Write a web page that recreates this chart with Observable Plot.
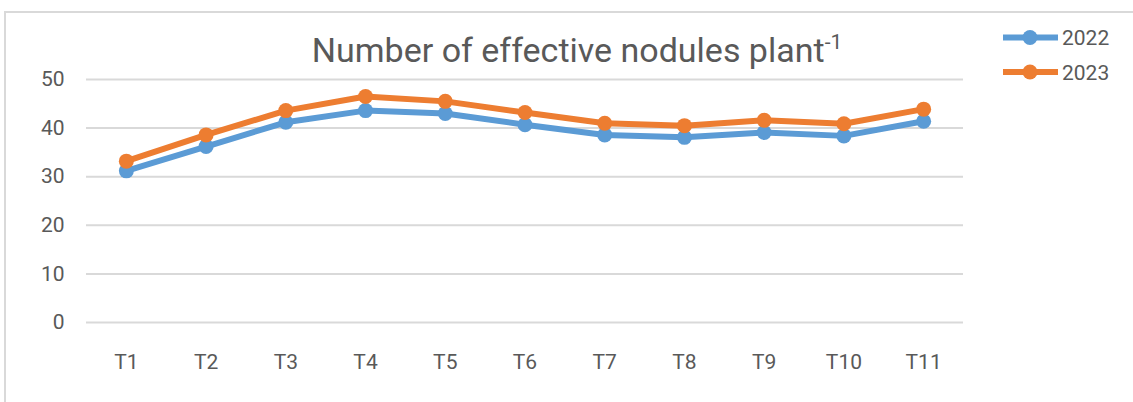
<!DOCTYPE html>
<html>
<head>
<meta charset="utf-8">
<script src="https://cdn.jsdelivr.net/npm/d3@7"></script>
<script src="https://cdn.jsdelivr.net/npm/@observablehq/plot@0.6"></script>
<style>
  html, body { margin: 0; padding: 0; background: #ffffff; }
  #wrap { position: relative; width: 1133px; height: 402px; overflow: hidden; background: #fff; }
  #frame { position: absolute; left: 4px; top: 11px; width: 1200px; height: 500px; border: 2px solid #d9d9d9; box-sizing: border-box; }
  #chart { position: absolute; left: 0; top: 0; }
</style>
</head>
<body>
<div id="wrap">
  <div id="frame"></div>
  <div id="chart"></div>
</div>
<script>
const categories = ["T1", "T2", "T3", "T4", "T5", "T6", "T7", "T8", "T9", "T10", "T11"];
const values2022 = [31.2, 36.2, 41.2, 43.6, 43.0, 40.7, 38.6, 38.1, 39.1, 38.4, 41.4];
const values2023 = [33.2, 38.6, 43.6, 46.5, 45.5, 43.2, 41.0, 40.5, 41.6, 40.9, 43.9];
const yTicks = [0, 10, 20, 30, 40, 50];
const seriesNames = ["2022", "2023"];
const seriesColors = ["#5B9BD5", "#ED7D31"];
const titleMain = "Number of effective nodules plant";
const titleSup = "-1";

const data = [];
seriesNames.forEach((s, si) => {
  const vals = si === 0 ? values2022 : values2023;
  categories.forEach((c, i) => data.push({ cat: c, year: s, v: vals[i] }));
});

const marks = [
  Plot.gridY(yTicks, { stroke: "#d9d9d9", strokeOpacity: 1, strokeWidth: 2 }),
  Plot.axisY(yTicks, { tickSize: 0, tickPadding: 22, label: null }),
  Plot.axisX({ tickSize: 0, tickPadding: 32, label: null })
];
seriesNames.forEach(s => {
  const d = data.filter(r => r.year === s);
  marks.push(Plot.line(d, { x: "cat", y: "v", stroke: "year", strokeWidth: 6, strokeLinejoin: "round", strokeLinecap: "round" }));
  marks.push(Plot.dot(d, { x: "cat", y: "v", fill: "year", r: 7.5 }));
});

const chart = Plot.plot({
  width: 1133,
  height: 402,
  marginLeft: 86,
  marginRight: 170,
  marginTop: 79,
  marginBottom: 80,
  x: { type: "point", domain: categories, padding: 0.5, round: false, label: null },
  y: { domain: [0, 50], label: null },
  color: { domain: seriesNames, range: seriesColors },
  style: { fontFamily: "Roboto, 'Open Sans', sans-serif", fontSize: "21px", color: "#595959", background: "transparent", overflow: "visible" },
  marks
});
document.getElementById("chart").appendChild(chart);

const svg = d3.select(chart);
// Title
const t = svg.append("text")
  .attr("x", 577).attr("y", 62)
  .attr("text-anchor", "middle")
  .attr("fill", "#595959")
  .style("font-family", "Roboto, sans-serif")
  .style("font-size", "34px");
t.append("tspan").text(titleMain);
t.append("tspan").attr("dy", -13).style("font-size", "21px").text(titleSup);

// Legend
seriesNames.forEach((s, i) => {
  const y = 37.5 + i * 34.5;
  const g = svg.append("g");
  g.append("line").attr("x1", 1003).attr("x2", 1058).attr("y1", y).attr("y2", y)
    .attr("stroke", seriesColors[i]).attr("stroke-width", 6);
  g.append("circle").attr("cx", 1030).attr("cy", y).attr("r", 7.5).attr("fill", seriesColors[i]);
  g.append("text").attr("x", 1062).attr("y", y).attr("dy", "0.36em")
    .attr("text-anchor", "start")
    .attr("fill", "#595959")
    .style("font-family", "Roboto, sans-serif")
    .style("font-size", "21px").text(s);
});
</script>
</body>
</html>
